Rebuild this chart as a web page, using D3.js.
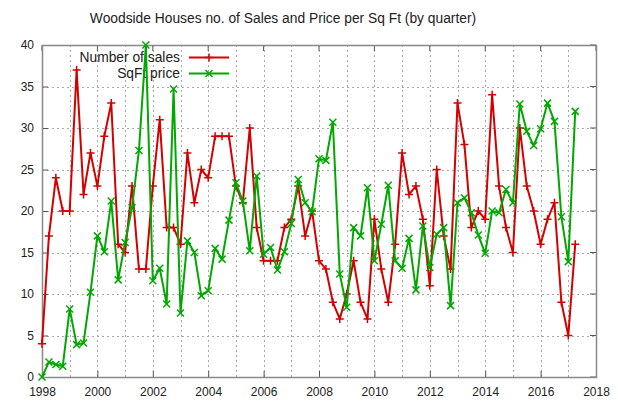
<!DOCTYPE html>
<html>
<head>
<meta charset="utf-8">
<script src="https://cdn.jsdelivr.net/npm/d3@7"></script>
<style>
  body { margin: 0; background: #fff; }
  text { font-family: "Liberation Sans", Arial, sans-serif; fill: #222; }
</style>
</head>
<body>
<svg id="chart" width="618" height="402"></svg>
<script>
const quarters = [
  "1998Q1","1998Q2","1998Q3","1998Q4","1999Q1","1999Q2","1999Q3","1999Q4",
  "2000Q1","2000Q2","2000Q3","2000Q4","2001Q1","2001Q2","2001Q3","2001Q4",
  "2002Q1","2002Q2","2002Q3","2002Q4","2003Q1","2003Q2","2003Q3","2003Q4",
  "2004Q1","2004Q2","2004Q3","2004Q4","2005Q1","2005Q2","2005Q3","2005Q4",
  "2006Q1","2006Q2","2006Q3","2006Q4","2007Q1","2007Q2","2007Q3","2007Q4",
  "2008Q1","2008Q2","2008Q3","2008Q4","2009Q1","2009Q2","2009Q3","2009Q4",
  "2010Q1","2010Q2","2010Q3","2010Q4","2011Q1","2011Q2","2011Q3","2011Q4",
  "2012Q1","2012Q2","2012Q3","2012Q4","2013Q1","2013Q2","2013Q3","2013Q4",
  "2014Q1","2014Q2","2014Q3","2014Q4","2015Q1","2015Q2","2015Q3","2015Q4",
  "2016Q1","2016Q2","2016Q3","2016Q4","2017Q1","2017Q2"
];

const salesCount = [
  4, 17, 24, 20, 20, 37, 22, 27, 23, 29, 33, 16, 15, 23, 13, 13,
  23, 31, 18, 18, 16, 27, 21, 25, 24, 29, 29, 29, 23, 21, 30, 18,
  14, 14, 14, 18, 19, 23, 17, 20, 14, 13, 9, 7, 10, 14, 9, 7,
  19, 13, 9, 16, 27, 22, 23, 19, 11, 25, 17, 13, 33, 28, 18, 20,
  19, 34, 23, 18, 15, 30, 23, 20, 16, 19, 21, 9, 5, 16
];

const sqftPrice = [
  0, 1.8, 1.5, 1.3, 8.2, 3.9, 4.1, 10.2, 17, 15.1, 21.2, 11.7, 16.2, 20.4, 27.3, 40,
  11.6, 13.1, 8.8, 34.7, 7.7, 16.4, 15, 9.8, 10.4, 15.5, 14.2, 18.9, 23.4, 21.2, 15.2, 24.2,
  14.8, 15.6, 12.9, 15.1, 18.5, 23.8, 21, 19.9, 26.3, 26.1, 30.7, 12.4, 8.4, 18, 17, 22.8,
  14, 18.4, 23.1, 14, 13.1, 16.7, 10.5, 18.2, 13.2, 17.2, 18, 8.6, 21, 21.6, 19.8, 17.1,
  14.9, 20, 19.8, 22.6, 21, 32.9, 29.6, 27.9, 29.9, 33, 30.8, 19.3, 13.9, 32
];

const xTickYears = [1998, 2000, 2002, 2004, 2006, 2008, 2010, 2012, 2014, 2016, 2018];
const yTickValues = [0, 5, 10, 15, 20, 25, 30, 35, 40];
const seriesNames = ["Number of sales", "SqFt price"];

const svg = d3.select("#chart");
const plotL = 42, plotR = 596, plotT = 45, plotB = 377;

// quarter label -> decimal year
const qYear = q => +q.slice(0, 4) + (+q.slice(5) - 1) / 4;

const x = d3.scaleLinear().domain([1998, 2018]).range([plotL, plotR]);
const y = d3.scaleLinear().domain([0, 40]).range([plotB, plotT]);

svg.append("rect").attr("width", 618).attr("height", 402).attr("fill", "#fff");

// grid
const grid = svg.append("g").attr("stroke", "#a8a8a8").attr("stroke-width", 1)
    .attr("stroke-dasharray", "2,3").attr("shape-rendering", "crispEdges");
grid.selectAll(".gx").data(d3.range(1999, 2018)).enter().append("line")
    .attr("x1", d => Math.round(x(d)) + 0.5).attr("x2", d => Math.round(x(d)) + 0.5)
    .attr("y1", plotT).attr("y2", plotB);
grid.selectAll(".gy").data(yTickValues.slice(1, -1)).enter().append("line")
    .attr("x1", plotL).attr("x2", plotR)
    .attr("y1", d => Math.round(y(d)) + 0.5).attr("y2", d => Math.round(y(d)) + 0.5);

// axes
const xAxis = d3.axisBottom(x).tickValues(xTickYears).tickFormat(d3.format("d")).tickSize(-6).tickPadding(10);
const yAxis = d3.axisLeft(y).tickValues(yTickValues).tickSize(-6).tickPadding(8);

const gx = svg.append("g").attr("transform", `translate(0,${plotB})`).call(xAxis);
const gy = svg.append("g").attr("transform", `translate(${plotL},0)`).call(yAxis);
[gx, gy].forEach(g => {
  g.select(".domain").remove();
  g.selectAll(".tick line").attr("stroke", "#555");
  g.selectAll("text").style("font-size", "12px").attr("fill", "#222");
});
// mirrored ticks on top/right
svg.append("g").selectAll("line").data(xTickYears).enter().append("line")
    .attr("x1", d => x(d)).attr("x2", d => x(d)).attr("y1", plotT).attr("y2", plotT + 6)
    .attr("stroke", "#555");
svg.append("g").selectAll("line").data(yTickValues).enter().append("line")
    .attr("x1", plotR - 6).attr("x2", plotR).attr("y1", d => y(d)).attr("y2", d => y(d))
    .attr("stroke", "#555");

svg.append("rect")
    .attr("x", plotL + 0.5).attr("y", plotT + 0.5)
    .attr("width", plotR - plotL).attr("height", plotB - plotT)
    .attr("fill", "none").attr("stroke", "#888").attr("stroke-width", 1.5);

// title
svg.append("text").attr("x", 283).attr("y", 23).attr("text-anchor", "middle")
    .style("font-size", "13.8px")
    .text("Woodside Houses no. of Sales and Price per Sq Ft (by quarter)");

const colors = ["#d40000", "#00a800"];
const plus = (g, cx, cy, c) => g.append("path")
    .attr("d", `M${cx - 4},${cy}H${cx + 4}M${cx},${cy - 4}V${cy + 4}`)
    .attr("stroke", c).attr("stroke-width", 1.5);
const cross = (g, cx, cy, c) => g.append("path")
    .attr("d", `M${cx - 3.5},${cy - 3.5}L${cx + 3.5},${cy + 3.5}M${cx - 3.5},${cy + 3.5}L${cx + 3.5},${cy - 3.5}`)
    .attr("stroke", c).attr("stroke-width", 1.5);
const markers = [plus, cross];

// legend
const legend = svg.append("g");
seriesNames.forEach((name, i) => {
  const ly = 57.5 + i * 16;
  legend.append("text").attr("x", 180).attr("y", ly).attr("dy", "0.35em")
      .attr("text-anchor", "end").style("font-size", "13.8px").text(name);
  legend.append("line").attr("x1", 189).attr("x2", 229).attr("y1", ly).attr("y2", ly)
      .attr("stroke", colors[i]).attr("stroke-width", 2);
  markers[i](legend, 209, ly, colors[i]);
});

// series
const line = d3.line().x(d => x(d.t)).y(d => y(d.v));
[salesCount, sqftPrice].forEach((vals, i) => {
  const data = quarters.map((q, k) => ({ t: qYear(q), v: vals[k] }));
  const g = svg.append("g");
  g.append("path").datum(data).attr("d", line).attr("fill", "none")
      .attr("stroke", colors[i]).attr("stroke-width", 2).attr("stroke-linejoin", "round");
  data.forEach(d => markers[i](g, x(d.t), y(d.v), colors[i]));
});
</script>
</body>
</html>
